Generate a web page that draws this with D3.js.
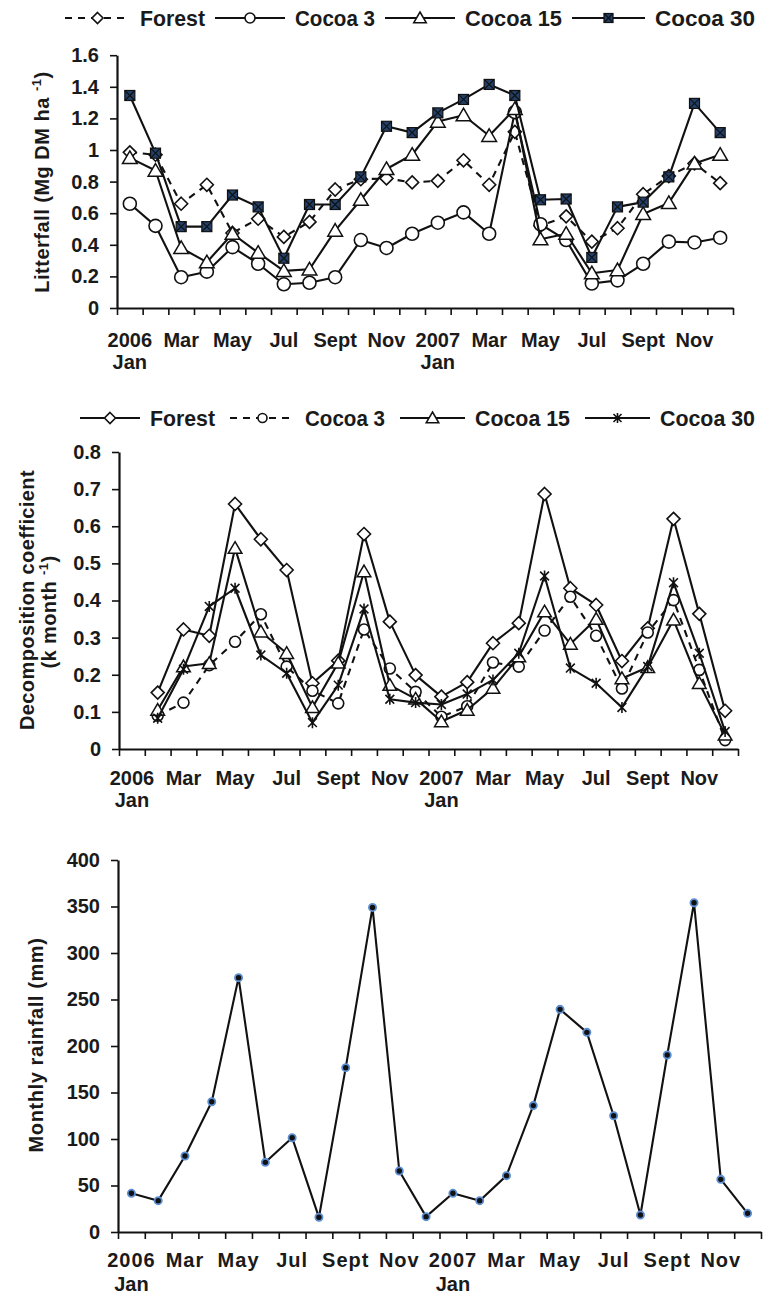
<!DOCTYPE html>
<html>
<head>
<meta charset="utf-8">
<script src="https://cdn.jsdelivr.net/npm/d3@7"></script>
<style>
  body { margin: 0; background: #fff; }
  text { font-family: "Liberation Sans", Arial, Helvetica, sans-serif; font-weight: bold; fill: #1a1a1a; }
</style>
</head>
<body>
<svg id="chart" width="768" height="1295"></svg>
<script>
// month labels (two rows) for the 24 months Jan 2006 - Dec 2007
const monthLabels = ["2006", "", "Mar", "", "May", "", "Jul", "", "Sept", "", "Nov", "",
                     "2007", "", "Mar", "", "May", "", "Jul", "", "Sept", "", "Nov", ""];
const yearLabels = ["Jan", "", "", "", "", "", "", "", "", "", "", "",
                    "Jan", "", "", "", "", "", "", "", "", "", "", ""];

// litterfall, Mg DM/ha, Jan 2006 - Dec 2007
const litterForest = [0.985, 0.97, 0.66, 0.78, 0.475, 0.565, 0.45, 0.545, 0.75, 0.815, 0.82, 0.795,
                      0.805, 0.935, 0.78, 1.115, 0.52, 0.58, 0.42, 0.505, 0.72, 0.835, 0.915, 0.79];
const litterCocoa3 = [0.66, 0.52, 0.195, 0.23, 0.385, 0.28, 0.15, 0.16, 0.195, 0.43, 0.38, 0.47,
                      0.54, 0.605, 0.47, 1.24, 0.53, 0.43, 0.155, 0.175, 0.28, 0.42, 0.415, 0.445];
const litterCocoa15 = [0.95, 0.87, 0.38, 0.29, 0.47, 0.35, 0.235, 0.245, 0.49, 0.685, 0.88, 0.97,
                       1.18, 1.22, 1.09, 1.26, 0.435, 0.47, 0.22, 0.24, 0.595, 0.665, 0.915, 0.97];
const litterCocoa30 = [1.345, 0.98, 0.515, 0.515, 0.715, 0.64, 0.315, 0.655, 0.655, 0.83, 1.15, 1.11,
                       1.235, 1.32, 1.415, 1.345, 0.685, 0.69, 0.32, 0.64, 0.67, 0.83, 1.295, 1.11];
const litterTicks = [0, 0.2, 0.4, 0.6, 0.8, 1, 1.2, 1.4, 1.6];

// decomposition coefficient k, Feb 2006 - Dec 2007
const decompStart = 1;
const decompForest = [0.152, 0.322, 0.305, 0.66, 0.565, 0.482, 0.177, 0.238, 0.579, 0.343, 0.199,
                      0.141, 0.18, 0.285, 0.339, 0.687, 0.433, 0.388, 0.237, 0.325, 0.62, 0.364, 0.103];
const decompCocoa3 = [0.09, 0.125, 0.226, 0.289, 0.363, 0.222, 0.157, 0.123, 0.322, 0.217, 0.154,
                      0.087, 0.115, 0.233, 0.222, 0.319, 0.41, 0.305, 0.163, 0.314, 0.401, 0.213, 0.024];
const decompCocoa15 = [0.105, 0.222, 0.231, 0.541, 0.316, 0.258, 0.112, 0.232, 0.478, 0.172, 0.135,
                       0.074, 0.105, 0.164, 0.249, 0.37, 0.283, 0.35, 0.19, 0.22, 0.348, 0.177, 0.038];
const decompCocoa30 = [0.083, 0.215, 0.384, 0.433, 0.253, 0.204, 0.071, 0.172, 0.377, 0.134, 0.125,
                       0.12, 0.148, 0.186, 0.258, 0.466, 0.218, 0.177, 0.112, 0.222, 0.448, 0.258, 0.047];
const decompTicks = [0, 0.1, 0.2, 0.3, 0.4, 0.5, 0.6, 0.7, 0.8];

// monthly rainfall, mm, Jan 2006 - Dec 2007
const rainfall = [41.6, 33.7, 81.7, 140, 273.5, 74.9, 101.4, 15.8, 176.7, 349, 65.6, 16.5,
                  41.6, 33.7, 60.6, 135.9, 239.4, 214.7, 125, 18.3, 190.3, 354, 56.6, 20.1];
const rainTicks = [0, 50, 100, 150, 200, 250, 300, 350, 400];

const svg = d3.select("#chart");
const ink = "#111";

function drawMarker(g, type, x, y, s) {
  if (type === "diamond") {
    g.append("path").attr("d", `M${x},${y - s}L${x + s},${y}L${x},${y + s}L${x - s},${y}Z`)
      .attr("fill", "#fff").attr("stroke", ink).attr("stroke-width", 1.6);
  } else if (type === "circle") {
    g.append("circle").attr("cx", x).attr("cy", y).attr("r", s)
      .attr("fill", "#fff").attr("stroke", ink).attr("stroke-width", 1.6);
  } else if (type === "triangle") {
    g.append("path").attr("d", `M${x},${y - s}L${x + s * 1.05},${y + s * 0.8}L${x - s * 1.05},${y + s * 0.8}Z`)
      .attr("fill", "#fff").attr("stroke", ink).attr("stroke-width", 1.5);
  } else if (type === "square") {
    g.append("rect").attr("x", x - s).attr("y", y - s).attr("width", 2 * s).attr("height", 2 * s)
      .attr("fill", "#22406a").attr("stroke", ink).attr("stroke-width", 1.2);
    g.append("path").attr("d", `M${x - s},${y - s}L${x + s},${y + s}M${x + s},${y - s}L${x - s},${y + s}`)
      .attr("stroke", ink).attr("stroke-width", 1.2);
  } else if (type === "star") {
    const d = s * 0.8;
    g.append("path").attr("d", `M${x - d},${y - d}L${x + d},${y + d}M${x + d},${y - d}L${x - d},${y + d}M${x},${y - s}L${x},${y + s}`)
      .attr("stroke", ink).attr("stroke-width", 1.6).attr("fill", "none");
  } else if (type === "dot") {
    g.append("circle").attr("cx", x).attr("cy", y).attr("r", s)
      .attr("fill", "#111").attr("stroke", "#5b8ed3").attr("stroke-width", 1.8);
  }
}

function drawPanel(opt) {
  const g = svg.append("g");
  const x = d3.scaleLinear().domain([0, 24]).range([opt.x0, opt.x1]);
  const y = d3.scaleLinear().domain([0, opt.yMax]).range([opt.yBottom, opt.yTop]);

  // y axis
  const ya = g.append("g").attr("transform", `translate(${opt.x0},0)`)
    .call(d3.axisLeft(y).tickValues(opt.ticks).tickFormat(d => String(d)).tickSize(7).tickSizeOuter(0).tickPadding(11));
  ya.select(".domain").attr("stroke", ink).attr("stroke-width", 2.2);
  ya.selectAll(".tick line").attr("stroke", ink).attr("stroke-width", 1.6);
  ya.selectAll(".tick text").attr("font-size", 20).attr("font-family", null).attr("fill", "#1a1a1a");

  // x axis: tick at each month boundary
  const xa = g.append("g").attr("transform", `translate(0,${opt.yBottom})`)
    .call(d3.axisBottom(x).tickValues(d3.range(25)).tickFormat("").tickSize(7).tickSizeOuter(0));
  xa.select(".domain").attr("stroke", ink).attr("stroke-width", 2.2);
  xa.selectAll(".tick line").attr("stroke", ink).attr("stroke-width", 1.6);

  g.selectAll(".mlab").data(monthLabels).join("text").attr("class", "mlab")
    .attr("x", (d, i) => x(i + 0.5)).attr("y", opt.labelY)
    .attr("text-anchor", "middle").attr("font-size", 20)
    .attr("letter-spacing", opt.labelSpacing || 0).text(d => d);
  g.selectAll(".ylab").data(yearLabels).join("text").attr("class", "ylab")
    .attr("x", (d, i) => x(i + 0.5)).attr("y", opt.labelY + opt.labelGap)
    .attr("text-anchor", "middle").attr("font-size", 20).text(d => d);

  // axis title (rotated)
  opt.titles.forEach(t => {
    const tx = g.append("text")
      .attr("transform", `translate(${t.x},${t.y}) rotate(-90)`)
      .attr("text-anchor", "middle").attr("font-size", 20).attr("letter-spacing", t.spacing);
    tx.append("tspan").text(t.text);
    if (t.sup) {
      tx.append("tspan").attr("font-size", 13).attr("dy", -8).text(t.sup);
      tx.append("tspan").attr("dy", 8).text(")");
    }
  });

  // series
  opt.series.forEach(s => {
    const line = d3.line().x((d, i) => x(i + s.start + 0.5)).y(d => y(d));
    g.append("path").datum(s.values).attr("d", line)
      .attr("fill", "none").attr("stroke", ink).attr("stroke-width", 2.1)
      .attr("stroke-dasharray", s.dash || null).attr("stroke-linejoin", "round");
    s.values.forEach((v, i) => drawMarker(g, s.marker, x(i + s.start + 0.5), y(v), s.size));
  });

  // legend
  if (opt.legend) {
    opt.legend.forEach((it, k) => {
      const s = opt.series[k];
      const ly = opt.legendY;
      g.append("line").attr("x1", it.x1).attr("x2", it.x2).attr("y1", ly).attr("y2", ly)
        .attr("stroke", ink).attr("stroke-width", 2.1).attr("stroke-dasharray", s.dash || null);
      drawMarker(g, s.marker, (it.x1 + it.x2) / 2, ly, s.legendSize);
      g.append("text").attr("x", it.tx).attr("y", ly + 8).attr("font-size", 22)
        .attr("textLength", it.w).attr("lengthAdjust", "spacingAndGlyphs").text(s.name);
    });
  }
}

drawPanel({
  x0: 117, x1: 733, yTop: 55.2, yBottom: 308, yMax: 1.6, ticks: litterTicks,
  labelY: 347, labelGap: 22,
  titles: [{ text: "Litterfall (Mg DM ha ", sup: "-1", x: 49, y: 182, spacing: 0.5 }],
  series: [
    { name: "Forest", values: litterForest, start: 0, marker: "diamond", dash: "7,6", size: 6.5, legendSize: 5.5 },
    { name: "Cocoa 3", values: litterCocoa3, start: 0, marker: "circle", size: 6.5, legendSize: 5 },
    { name: "Cocoa 15", values: litterCocoa15, start: 0, marker: "triangle", size: 7, legendSize: 6 },
    { name: "Cocoa 30", values: litterCocoa30, start: 0, marker: "square", size: 5, legendSize: 4.5 }
  ],
  legendY: 18,
  legend: [
    { x1: 65, x2: 130, tx: 140, w: 65 },
    { x1: 215, x2: 285, tx: 295, w: 80 },
    { x1: 385, x2: 455, tx: 465, w: 97 },
    { x1: 572, x2: 645, tx: 655, w: 100 }
  ]
});

drawPanel({
  x0: 119, x1: 738, yTop: 452, yBottom: 749, yMax: 0.8, ticks: decompTicks,
  labelY: 785, labelGap: 22,
  titles: [
    { text: "Decomposition coefficient", x: 34, y: 600, spacing: 0.4 },
    { text: "(k month ", sup: "-1", x: 56, y: 612, spacing: 0.4 }
  ],
  series: [
    { name: "Forest", values: decompForest, start: decompStart, marker: "diamond", size: 6.5, legendSize: 5.5 },
    { name: "Cocoa 3", values: decompCocoa3, start: decompStart, marker: "circle", dash: "7,6", size: 5.5, legendSize: 4.5 },
    { name: "Cocoa 15", values: decompCocoa15, start: decompStart, marker: "triangle", size: 6.5, legendSize: 6 },
    { name: "Cocoa 30", values: decompCocoa30, start: decompStart, marker: "star", size: 5.5, legendSize: 5 }
  ],
  legendY: 418,
  legend: [
    { x1: 80, x2: 140, tx: 150, w: 65 },
    { x1: 230, x2: 295, tx: 305, w: 80 },
    { x1: 400, x2: 465, tx: 475, w: 95 },
    { x1: 585, x2: 650, tx: 660, w: 95 }
  ]
});

drawPanel({
  x0: 118, x1: 761, yTop: 860, yBottom: 1232, yMax: 400, ticks: rainTicks,
  labelY: 1267, labelGap: 24, labelSpacing: 1,
  titles: [{ text: "Monthly rainfall (mm)", x: 43, y: 1045, spacing: 0.6 }],
  series: [
    { name: "Rainfall", values: rainfall, start: 0, marker: "dot", size: 3.6 }
  ]
});
</script>
</body>
</html>
